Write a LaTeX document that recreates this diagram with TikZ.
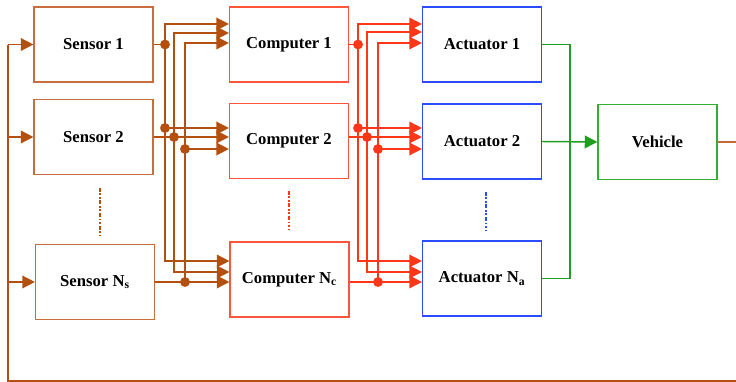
\documentclass[tikz,border=0pt]{standalone}
\usepackage{fontspec}
\setmainfont{Liberation Serif}
\usetikzlibrary{arrows.meta,calc}
\definecolor{sbox}{RGB}{200,110,60}
\definecolor{bwire}{RGB}{180,80,15}
\definecolor{cbox}{RGB}{255,85,60}
\definecolor{rwire}{RGB}{255,55,25}
\definecolor{abox}{RGB}{45,75,255}
\definecolor{vbox}{RGB}{50,175,50}
\definecolor{gwire}{RGB}{30,160,30}
\definecolor{owire}{RGB}{200,105,55}

\begin{document}
\begin{tikzpicture}[
  x=0.75pt,y=-0.75pt,
  font=\fontsize{12.5}{14}\selectfont\bfseries,
  box/.style={draw,line width=1.1pt,minimum width=89pt,minimum height=56pt,align=center,inner sep=2pt},
  sens/.style={box,draw=sbox},
  comp/.style={box,draw=cbox},
  act/.style={box,draw=abox},
  veh/.style={box,draw=vbox},
  bw/.style={draw=bwire,line width=1.1pt},
  rw/.style={draw=rwire,line width=1.1pt},
  gw/.style={draw=gwire,line width=1.1pt},
  ow/.style={draw=owire,line width=1.1pt},
  dot/.style={circle,inner sep=0pt,minimum size=7.4pt},
  bdot/.style={dot,fill=bwire},
  rdot/.style={dot,fill=rwire},
  vdots/.style={line width=2pt,dash pattern=on 3pt off 1.3pt on 1.3pt off 1.3pt on 1.3pt off 1.3pt},
  >={Triangle[length=9.5pt,width=9.5pt]}
]
\useasboundingbox (0,0) rectangle (736,382);

\node[sens] (s1) at (93.5,44.5)  {Sensor 1};
\node[sens] (s2) at (93.5,137)   {Sensor 2};
\node[sens] (sn) at (95,282)     {Sensor N\textsubscript{s}};
\node[comp] (c1) at (289,44.5)   {Computer 1};
\node[comp] (c2) at (289,141)    {Computer 2};
\node[comp] (cn) at (289.5,279.5) {Computer N\textsubscript{c}};
\node[act]  (a1) at (482,44.5)   {Actuator 1};
\node[act]  (a2) at (482,141.5)  {Actuator 2};
\node[act]  (an) at (482,278.5)  {Actuator N\textsubscript{a}};
\node[veh]  (v)  at (657.5,142)  {Vehicle};

% bus columns and loop
\coordinate (bx1) at (165,0);
\coordinate (bx2) at (174,0);
\coordinate (bx3) at (185,0);
\coordinate (rx1) at (358,0);
\coordinate (rx2) at (367,0);
\coordinate (rx3) at (378,0);
\coordinate (gx)  at (570,0);
\coordinate (fx)  at (8,0);
\coordinate (fr)  at (736,381);

% inputs
\coordinate (c1i1) at ($(c1.west)+(0,-20.5)$);
\coordinate (c1i2) at ($(c1.west)+(0,-11.5)$);
\coordinate (c1i3) at ($(c1.west)+(0,-1.5)$);
\coordinate (c2i1) at ($(c2.west)+(0,-13)$);
\coordinate (c2i2) at (c2.west |- s2.east);
\coordinate (c2i3) at ($(c2.west)+(0,8)$);
\coordinate (cni1) at ($(cn.west)+(0,-18.5)$);
\coordinate (cni2) at ($(cn.west)+(0,-7.5)$);
\coordinate (cni3) at (cn.west |- sn.east);
\coordinate (a1i1) at ($(a1.west)+(0,-20.5)$);
\coordinate (a1i2) at ($(a1.west)+(0,-12.5)$);
\coordinate (a1i3) at ($(a1.west)+(0,-1.5)$);
\coordinate (a2i1) at ($(a2.west)+(0,-13.5)$);
\coordinate (a2i2) at (a2.west |- c2i2);
\coordinate (a2i3) at ($(a2.west)+(0,7.5)$);
\coordinate (ani1) at ($(an.west)+(0,-17.5)$);
\coordinate (ani2) at ($(an.west)+(0,-6.5)$);
\coordinate (ani3) at (an.west |- cni3);

% sensors -> computers
\draw[bw] (s1.east) -- (s1.east -| bx1);
\draw[bw,->] (s1.east -| bx1) |- (c1i1);
\draw[bw,->] (s1.east -| bx1) |- (c2i1);
\draw[bw,->] (s1.east -| bx1) |- (cni1);
\draw[bw,->] (s2.east) -- (c2i2);
\draw[bw,->] (s2.east -| bx2) |- (c1i2);
\draw[bw,->] (s2.east -| bx2) |- (cni2);
\draw[bw,->] (sn.east) -- (cni3);
\draw[bw,->] (sn.east -| bx3) |- (c1i3);
\draw[bw,->] (sn.east -| bx3) |- (c2i3);
\node[bdot] (bj1) at (s1.east -| bx1) {};
\node[bdot] (bj2) at (c2i1 -| bx1) {};
\node[bdot] (bj3) at (s2.east -| bx2) {};
\node[bdot] (bj4) at (sn.east -| bx3) {};
\node[bdot] (bj5) at (c2i3 -| bx3) {};

% computers -> actuators
\draw[rw] (c1.east) -- (c1.east -| rx1);
\draw[rw,->] (c1.east -| rx1) |- (a1i1);
\draw[rw,->] (c1.east -| rx1) |- (a2i1);
\draw[rw,->] (c1.east -| rx1) |- (ani1);
\draw[rw,->] (c2.east |- c2i2) -- (a2i2);
\draw[rw,->] (c2i2 -| rx2) |- (a1i2);
\draw[rw,->] (c2i2 -| rx2) |- (ani2);
\draw[rw,->] (cn.east |- cni3) -- (ani3);
\draw[rw,->] (cni3 -| rx3) |- (a1i3);
\draw[rw,->] (cni3 -| rx3) |- (a2i3);
\node[rdot] (rj1) at (c1.east -| rx1) {};
\node[rdot] (rj2) at (a2i1 -| rx1) {};
\node[rdot] (rj3) at (c2i2 -| rx2) {};
\node[rdot] (rj4) at (cni3 -| rx3) {};
\node[rdot] (rj5) at (a2i3 -| rx3) {};

% actuators -> vehicle
\draw[gw] (a1.east) -| (gx |- an.east) -- (an.east);
\draw[gw,->] (a2.east) -- (v.west);

% feedback
\draw[ow] (v.east) -- (v.east -| fr);
\draw[bw] (fr) -- (fr -| fx) -- (fx |- s1.west);
\draw[bw,->] (fx |- s1.west) -- (s1.west);
\draw[bw,->] (fx |- s2.west) -- (s2.west);
\draw[bw,->] (fx |- sn.west) -- (sn.west);

% dots between rows
\draw[vdots,bwire] ($(s2.south)+(6.5,12.5)$) -- ($(sn.north)+(5,-9)$);
\draw[vdots,rwire] ($(c2.south)+(0,11.5)$) -- ($(cn.north)+(-0.5,-11)$);
\draw[vdots,abox]  ($(a2.south)+(4,12)$) -- ($(an.north)+(4,-10)$);
\end{tikzpicture}
\end{document}
